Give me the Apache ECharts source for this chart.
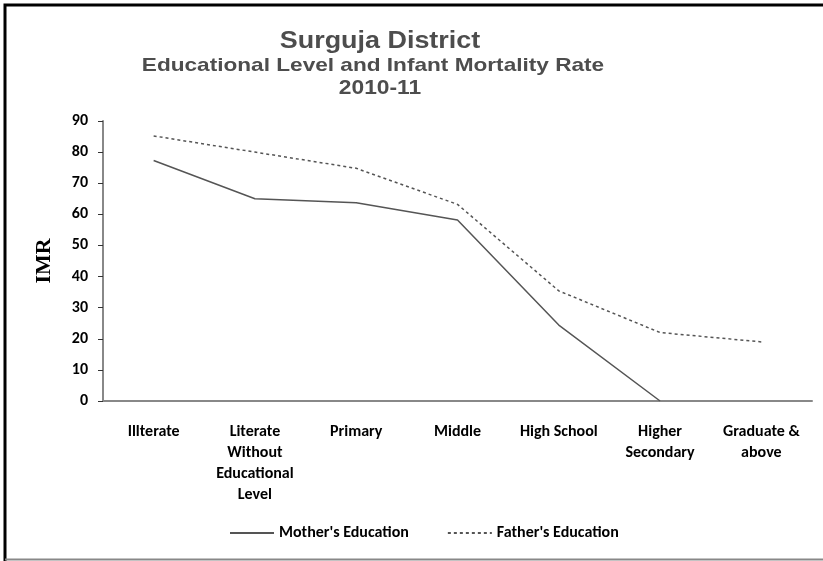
<!DOCTYPE html>
<html>
<head>
<meta charset="utf-8">
<script src="https://cdn.jsdelivr.net/npm/echarts@6/dist/echarts.min.js"></script>
<style>
html,body{margin:0;padding:0;background:#fff;}
#c{width:823px;height:561px;}
</style>
</head>
<body>
<div id="c"></div>
<script>
var categories = ['Illterate', 'Literate\nWithout\nEducational\nLevel', 'Primary', 'Middle', 'High School', 'Higher\nSecondary', 'Graduate &\nabove'];
var motherEducation = [77.3, 65, 63.7, 58.2, 24.4, 0, null];
var fatherEducation = [85.2, 80, 74.8, 63.2, 35.4, 22, 19];
var yTicks = [0, 10, 20, 30, 40, 50, 60, 70, 80, 90];
var titleLines = ['Surguja District', 'Educational Level and Infant Mortality Rate', '2010-11'];

var labelFont = "'Carlito','Lato',sans-serif";
var titleFont = "'Liberation Sans',Arial,sans-serif";
var chart = echarts.init(document.getElementById('c'), null, {renderer: 'canvas'});
chart.setOption({
  animation: false,
  backgroundColor: '#fff',
  grid: {left: 103, right: 11, top: 121, bottom: 160, containLabel: false},
  legend: {
    bottom: 15, left: 224, itemGap: 38, itemWidth: 44, itemHeight: 10,
    itemStyle: {opacity: 0},
    textStyle: {fontFamily: labelFont, fontWeight: 'bold', fontSize: 16, color: '#000'},
    data: ["Mother's Education", "Father's Education"]
  },
  xAxis: {
    type: 'category', data: categories, boundaryGap: true,
    axisLine: {lineStyle: {color: '#888', width: 2}},
    axisTick: {alignWithLabel: true, length: 5, lineStyle: {color: '#333', width: 1}},
    axisLabel: {interval: 0, margin: 20, fontFamily: labelFont, fontWeight: 'bold', fontSize: 16, lineHeight: 21, color: '#000'}
  },
  yAxis: {
    type: 'value', min: 0, max: 90, interval: 10,
    name: 'IMR', nameLocation: 'middle', nameGap: 48, nameRotate: 90,
    nameTextStyle: {fontFamily: "'Liberation Serif','Times New Roman',serif", fontWeight: 'bold', fontSize: 22, color: '#000'},
    axisLine: {show: true, lineStyle: {color: '#888', width: 2}},
    axisTick: {show: true, length: 5, lineStyle: {color: '#333'}},
    splitLine: {show: false},
    axisLabel: {margin: 15, fontFamily: labelFont, fontWeight: 'bold', fontSize: 16, color: '#000',
      formatter: function (v) { return yTicks.indexOf(v) >= 0 ? String(v) : ''; }}
  },
  series: [
    {name: "Mother's Education", type: 'line', data: motherEducation, symbol: 'none',
     lineStyle: {color: '#555', width: 1.5, type: 'solid'}, itemStyle: {color: '#555'}},
    {name: "Father's Education", type: 'line', data: fatherEducation, symbol: 'none',
     lineStyle: {color: '#555', width: 1.5, type: [3, 3]}, itemStyle: {color: '#555'}}
  ],
  graphic: [
    {type: 'text', x: 380, y: 42, scaleX: 1.17, style: {text: titleLines[0], font: 'bold 23px ' + titleFont, fill: '#4d4d4d', textAlign: 'center', textVerticalAlign: 'middle'}},
    {type: 'text', x: 373, y: 66, scaleX: 1.19, style: {text: titleLines[1], font: 'bold 19px ' + titleFont, fill: '#4d4d4d', textAlign: 'center', textVerticalAlign: 'middle'}},
    {type: 'text', x: 380, y: 88, scaleX: 1.14, style: {text: titleLines[2], font: 'bold 20px ' + titleFont, fill: '#4d4d4d', textAlign: 'center', textVerticalAlign: 'middle'}},
    {type: 'polyline', shape: {points: [[5, 561], [5, 5], [823, 5]]}, style: {stroke: '#000', lineWidth: 3, fill: null}},
    {type: 'line', shape: {x1: 5, y1: 559.5, x2: 823, y2: 559.5}, style: {stroke: '#888', lineWidth: 2}}
  ]
});
</script>
</body>
</html>
